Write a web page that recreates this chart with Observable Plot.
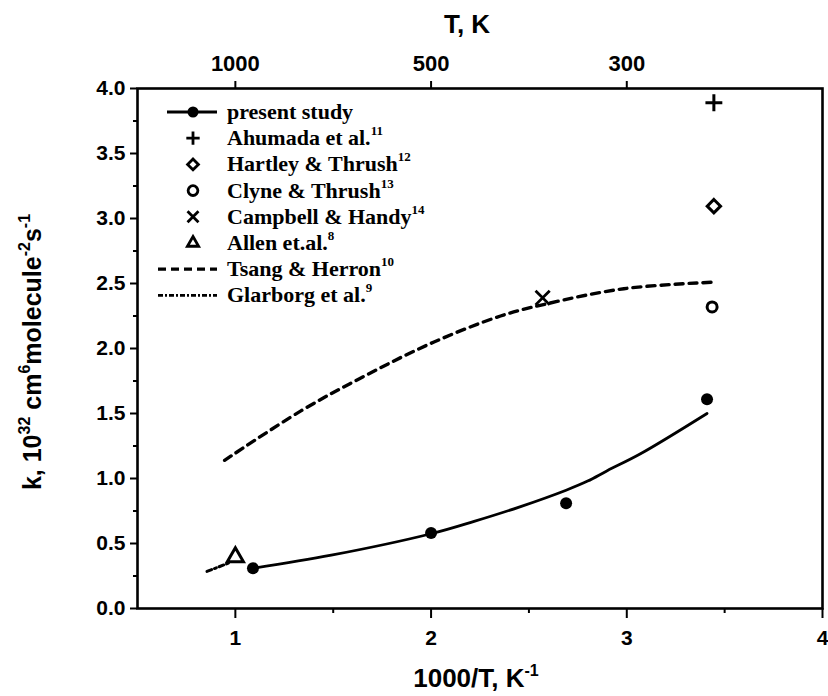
<!DOCTYPE html>
<html><head><meta charset="utf-8">
<script src="https://cdn.jsdelivr.net/npm/d3@7"></script>
<script src="https://cdn.jsdelivr.net/npm/@observablehq/plot@0.6"></script>
<style>body{margin:0;background:#fff;}</style>
</head><body><div id="chart"></div>
<script>
// present study (filled circles)
const presentX = [1.09, 2.0, 2.69, 3.41];
const presentY = [0.31, 0.58, 0.81, 1.61];
// fit line for present study
const fitX = [1.095, 1.49, 2.0, 2.22, 2.45, 2.69, 2.80, 2.90, 3.07, 3.41];
const fitY = [0.31, 0.41, 0.575, 0.67, 0.78, 0.91, 0.98, 1.06, 1.19, 1.50];
// Tsang & Herron (dashed)
const tsangX = [0.945, 1.335, 1.675, 2.015, 2.355, 2.58, 2.985, 3.44];
const tsangY = [1.14, 1.52, 1.80, 2.05, 2.25, 2.34, 2.46, 2.51];
// Glarborg et al. (dash-dot)
const glarX = [0.855, 0.975];
const glarY = [0.285, 0.355];
// single-point literature values
const ahumada = {x: 3.445, y: 3.89};
const hartley = {x: 3.445, y: 3.095};
const clyne = {x: 3.436, y: 2.32};
const campbell = {x: 2.57, y: 2.39};
const allen = {x: 1.0, y: 0.395};
// ticks
const xTicks = [1, 2, 3, 4];
const xMinor = [1.5, 2.5, 3.5];
const yTicks = [0, 0.5, 1, 1.5, 2, 2.5, 3, 3.5, 4];
const yMinor = [0.25, 0.75, 1.25, 1.75, 2.25, 2.75, 3.25, 3.75];
const topTicks = [1, 2, 3];
const topLabels = ["1000", "500", "300"];
// legend entries
const legendLabels = ["present study", "Ahumada et al.", "Hartley & Thrush", "Clyne & Thrush", "Campbell & Handy", "Allen et.al.", "Tsang & Herron", "Glarborg et al."];
const legendRefs = ["", "11", "12", "13", "14", "8", "10", "9"];
const legendKinds = ["fit", "plus", "diamond", "circle", "times", "triangle", "dash", "dashdot"];

const zip = (xs, ys) => xs.map((x, i) => ({x, y: ys[i]}));
const present = zip(presentX, presentY);
const fit = zip(fitX, fitY);
const tsang = zip(tsangX, tsangY);
const glar = zip(glarX, glarY);

const sans = "Liberation Sans, Arial, sans-serif";
const serif = "Liberation Serif, Times New Roman, serif";

const plot = Plot.plot({
  width: 828, height: 696,
  marginLeft: 137, marginRight: 6, marginTop: 88, marginBottom: 88,
  style: {fontFamily: sans, background: "#fff", color: "#000"},
  x: {domain: [0.5, 4]},
  y: {domain: [0, 4]},
  marks: [
    Plot.axisX({anchor: "bottom", ticks: xTicks, tickSize: 10, tickPadding: 12, tickFormat: d => String(d), fontSize: 21, fontWeight: "bold", strokeWidth: 2, label: null}),
    Plot.axisX({anchor: "bottom", ticks: xMinor, tickSize: 5, tickFormat: () => "", strokeWidth: 2, label: null}),
    Plot.axisX({anchor: "top", ticks: topTicks, tickSize: 8, tickPadding: 10, tickFormat: (d, i) => topLabels[i], fontSize: 22, fontWeight: "bold", strokeWidth: 2, label: null}),
    Plot.axisY({anchor: "left", ticks: yTicks, tickSize: 7, tickPadding: 5, tickFormat: d3.format(".1f"), fontSize: 21, fontWeight: "bold", strokeWidth: 2, label: null}),
    Plot.axisY({anchor: "left", ticks: yMinor, tickSize: 4, tickFormat: () => "", strokeWidth: 2, label: null}),
    Plot.frame({stroke: "#000", strokeWidth: 2.6}),
    Plot.line(fit, {x: "x", y: "y", curve: "catmull-rom", stroke: "#000", strokeWidth: 2.8}),
    Plot.line(tsang, {x: "x", y: "y", curve: "catmull-rom", stroke: "#000", strokeWidth: 3.4, strokeDasharray: "8,6"}),
    Plot.line(glar, {x: "x", y: "y", stroke: "#000", strokeWidth: 3, strokeDasharray: "5,3,2,3"}),
    Plot.dot(present, {x: "x", y: "y", r: 6, fill: "#000", stroke: "none"}),
    Plot.dot([ahumada], {x: "x", y: "y", symbol: "plus", r: 5.5, stroke: "#000", strokeWidth: 3}),
    Plot.dot([hartley], {x: "x", y: "y", symbol: "diamond2", r: 6, stroke: "#000", strokeWidth: 3, fill: "none"}),
    Plot.dot([clyne], {x: "x", y: "y", symbol: "circle", r: 5, stroke: "#000", strokeWidth: 3, fill: "none"}),
    Plot.dot([campbell], {x: "x", y: "y", symbol: "times", r: 6.5, stroke: "#000", strokeWidth: 2.8}),
    Plot.dot([allen], {x: "x", y: "y", symbol: "triangle", r: 6, stroke: "#000", strokeWidth: 3, fill: "none"})
  ]
});

const svg = d3.select(plot);

// Axis titles
const xt = svg.append("text").attr("x", 476).attr("y", 687).attr("text-anchor", "middle")
  .attr("font-family", sans).attr("font-weight", "bold").attr("font-size", 26).attr("fill", "#000");
xt.append("tspan").text("1000/T, K");
xt.append("tspan").attr("font-size", 16).attr("dy", -11).text("-1");

svg.append("text").attr("x", 467).attr("y", 33).attr("text-anchor", "middle")
  .attr("font-family", sans).attr("font-weight", "bold").attr("font-size", 26).attr("fill", "#000").text("T, K");

const yt = svg.append("text").attr("transform", "translate(41,352) rotate(-90)").attr("text-anchor", "middle")
  .attr("font-family", sans).attr("font-weight", "bold").attr("font-size", 25).attr("fill", "#000");
const ypart = (t, sup) => {
  if (sup) yt.append("tspan").attr("font-size", 16).attr("baseline-shift", "70%").text(t);
  else yt.append("tspan").text(t);
};
ypart("k, 10"); ypart("32", true); ypart(" cm"); ypart("6", true); ypart("molecule"); ypart("-2", true); ypart("s"); ypart("-1", true);

// Legend (inside the plot, top-left)
const lg = svg.append("g");
const sym = {plus: d3.symbolPlus, diamond: d3.symbolDiamond2, circle: d3.symbolCircle, times: d3.symbolTimes, triangle: d3.symbolTriangle2};
const symSize = {plus: 60, diamond: 75, circle: 75, times: 80, triangle: 90};
legendLabels.forEach((label, i) => {
  const kind = legendKinds[i];
  const y = 112 + i * 26.2;
  const cx = 193;
  if (kind === "fit" || kind === "dash" || kind === "dashdot") {
    const ln = lg.append("line").attr("x1", kind === "fit" ? 167 : 158).attr("x2", 217).attr("y1", y).attr("y2", y)
      .attr("stroke", "#000").attr("stroke-width", kind === "dash" ? 3.2 : 2.8);
    if (kind === "dash") ln.attr("stroke-dasharray", "8,5");
    if (kind === "dashdot") ln.attr("stroke-dasharray", "5,2,2,2");
    if (kind === "fit") lg.append("circle").attr("cx", cx).attr("cy", y).attr("r", 5.5).attr("fill", "#000");
  } else {
    const s = d3.symbol(sym[kind], symSize[kind])();
    lg.append("path").attr("d", s).attr("transform", `translate(${cx},${y})`)
      .attr("fill", "none").attr("stroke", "#000").attr("stroke-width", 2.8);
  }
  const t = lg.append("text").attr("x", 227).attr("y", y + 7).attr("text-anchor", "start").attr("font-family", serif)
    .attr("font-weight", "bold").attr("font-size", 22).attr("fill", "#000");
  t.append("tspan").text(label);
  if (legendRefs[i]) t.append("tspan").attr("font-size", 13).attr("dy", -10).text(legendRefs[i]);
});

document.getElementById("chart").appendChild(plot);
</script>
</body></html>
